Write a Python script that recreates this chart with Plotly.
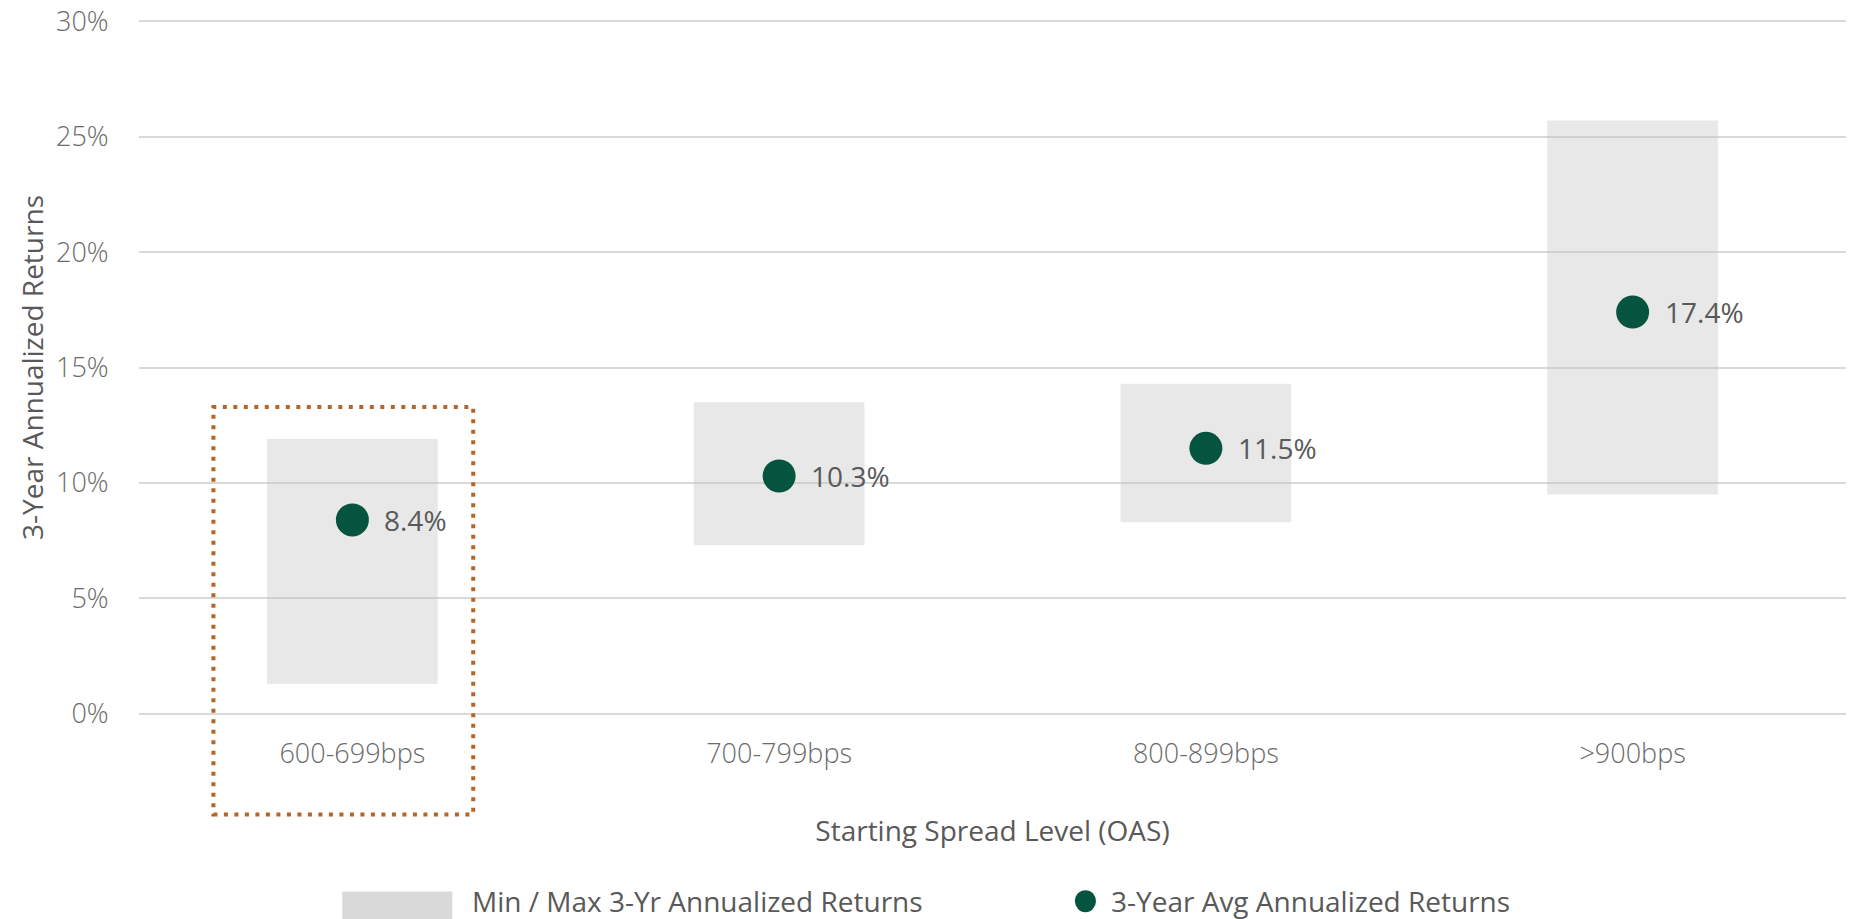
import plotly.graph_objects as go

# Starting spread buckets and 3-year annualized return statistics (%)
categories = ["600-699bps", "700-799bps", "800-899bps", ">900bps"]
min_returns = [1.3, 7.3, 8.3, 9.5]
max_returns = [11.9, 13.5, 14.3, 25.7]
avg_returns = [8.4, 10.3, 11.5, 17.4]
y_tick_values = [0, 5, 10, 15, 20, 25, 30]
y_tick_labels = ["0%", "5%", "10%", "15%", "20%", "25%", "30%"]

GREEN = "#04543F"
TEXT = "#595959"
FONT = "Open Sans"

fig = go.Figure()

# Min / max range drawn as floating bars
fig.add_trace(go.Bar(
    x=categories,
    y=[hi - lo for lo, hi in zip(min_returns, max_returns)],
    base=min_returns,
    width=0.4,
    marker=dict(color="rgba(190,190,190,0.36)", line=dict(width=0)),
    name="Min / Max 3-Yr Annualized Returns",
    showlegend=False,
    hoverinfo="skip",
))

# Average return markers
fig.add_trace(go.Scatter(
    x=categories,
    y=avg_returns,
    mode="markers",
    marker=dict(color=GREEN, size=33, line=dict(width=0)),
    name="3-Year Avg Annualized Returns",
    showlegend=False,
))

# Value labels next to each marker
for cat, val in zip(categories, avg_returns):
    fig.add_annotation(
        x=cat, y=val, text=f"{val}%", showarrow=False,
        xanchor="left", yanchor="middle", xshift=30,
        font=dict(family=FONT, size=28, color=TEXT),
    )

# Highlight box around the first bucket
fig.add_shape(
    type="rect", xref="paper", yref="paper",
    x0=0.0436, x1=0.1958, y0=-0.143, y1=0.443,
    line=dict(color="#B5652A", width=4, dash="4px,6.5px"),
    fillcolor="rgba(0,0,0,0)", layer="above",
)

# Legend drawn below the chart
fig.add_shape(
    type="rect", xref="paper", yref="paper",
    x0=0.1191, x1=0.1835, y0=-0.31, y1=-0.2541,
    line=dict(width=0), fillcolor="#D9D9D9",
)
fig.add_annotation(
    xref="paper", yref="paper", x=0.1941, y=-0.268,
    text="Min / Max 3-Yr Annualized Returns", showarrow=False,
    xanchor="left", yanchor="middle",
    font=dict(family=FONT, size=28, color=TEXT),
)
fig.add_shape(
    type="circle", xref="paper", yref="paper",
    x0=0.5483, x1=0.5606, y0=-0.2837, y1=-0.2520,
    line=dict(width=0), fillcolor=GREEN,
)
fig.add_annotation(
    xref="paper", yref="paper", x=0.5682, y=-0.268,
    text="3-Year Avg Annualized Returns", showarrow=False,
    xanchor="left", yanchor="middle",
    font=dict(family=FONT, size=28, color=TEXT),
)

fig.update_layout(
    width=1854, height=919,
    margin=dict(l=139, r=8, t=20, b=204),
    paper_bgcolor="white", plot_bgcolor="white",
    showlegend=False,
    font=dict(family=FONT, color=TEXT),
    xaxis=dict(
        type="category", automargin=False,
        showgrid=False, showline=False, zeroline=False,
        ticks="outside", ticklen=15, tickcolor="rgba(0,0,0,0)",
        tickfont=dict(family=FONT, size=27, color="#6b6b6b", weight=300),
        title=dict(text="Starting Spread Level (OAS)", standoff=50,
                   font=dict(family=FONT, size=28, color=TEXT)),
    ),
    yaxis=dict(
        range=[-0.05, 30.05], automargin=False,
        tickvals=y_tick_values, ticktext=y_tick_labels,
        showgrid=True, gridcolor="#D9D9D9", gridwidth=1.5,
        showline=False, zeroline=False,
        ticks="outside", ticklen=24, tickcolor="rgba(0,0,0,0)",
        tickfont=dict(family=FONT, size=27, color="#6b6b6b", weight=300),
        title=dict(text="3-Year Annualized Returns", standoff=4,
                   font=dict(family=FONT, size=28, color=TEXT)),
    ),
)

fig.write_html("out.html")
